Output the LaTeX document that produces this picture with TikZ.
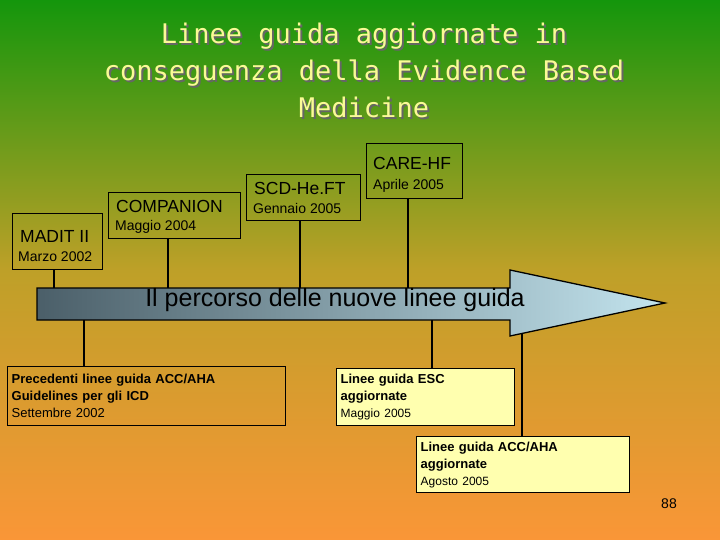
\documentclass[tikz,border=0pt]{standalone}
\usepackage{fontspec}
\setmainfont{Liberation Sans}
\newfontfamily\titlefont{DejaVu Sans Mono}
\definecolor{bgtop}{RGB}{20,150,12}
\definecolor{bgmid}{RGB}{190,160,40}
\definecolor{bgbot}{RGB}{250,150,55}
\definecolor{titlecol}{RGB}{250,250,150}
\definecolor{arrowdark}{RGB}{75,95,105}
\definecolor{arrowlight}{RGB}{195,228,238}
\definecolor{notecol}{RGB}{255,255,175}
\tikzset{
		trial/.style = {draw, line width=1.3pt, anchor=north west, align=left, inner sep=4pt},
		guide/.style = {draw, line width=1.3pt, anchor=north west, align=left, inner sep=4pt, font=\fontsize{13}{17}\selectfont},
		stem/.style  = {line width=1.3pt},
		trialname/.style = {anchor=west, inner sep=0pt, font=\fontsize{17.5}{20}\selectfont},
		trialdate/.style = {anchor=west, inner sep=0pt, font=\fontsize{14}{16}\selectfont}
	}
\begin{document}
\begin{tikzpicture}[x=1pt,y=-1pt]
	\shade[top color=bgtop, bottom color=bgbot, middle color=bgmid] (0,0) rectangle (720,540);
	\useasboundingbox (0,0) rectangle (720,540);
	
	% title
	\node[text=black!60, align=center, font=\titlefont\fontsize{27}{37}\selectfont] at (366,72) {Linee guida aggiornate in\\conseguenza della Evidence Based\\Medicine};
	\node (title) [text=titlecol, align=center, font=\titlefont\fontsize{27}{37}\selectfont] at (364,70) {Linee guida aggiornate in\\conseguenza della Evidence Based\\Medicine};
	
	% timeline arrow
	\draw[line width=1.3pt, left color=arrowdark, right color=arrowlight] (37,288) -- (510,288) -- (510,270) -- (665,303) -- (510,336) -- (510,320) -- (37,320) -- cycle;
	\coordinate (top1) at (54,288);
	\coordinate (top2) at (168,288);
	\coordinate (top3) at (300,288);
	\coordinate (top4) at (408,288);
	\coordinate (bot1) at (84,320);
	\coordinate (bot2) at (432,320);
	\coordinate (bot3) at (522,333);
	\node (path) [font=\fontsize{25}{28}\selectfont] at (335,300) {Il percorso delle nuove linee guida};
	
	% trials above the arrow
	\node[trial, minimum width=90pt, minimum height=56pt] (madit) at (12,213) {};
	\node[trialname] at (20,236) {MADIT II};
	\node[trialdate] at (18,257) {Marzo 2002};
	\node[trial, minimum width=132pt, minimum height=46pt] (comp) at (108,192) {};
	\node[trialname] at (116,206) {COMPANION};
	\node[trialdate] at (115,227) {Maggio 2004};
	\node[trial, minimum width=114pt, minimum height=46pt] (scd) at (246,174) {};
	\node[trialname] at (254,188) {SCD-He.FT};
	\node[trialdate] at (253,208) {Gennaio 2005};
	\node[trial, minimum width=96pt, minimum height=55pt] (care) at (366,143) {};
	\node[trialname] at (373,163) {CARE-HF};
	\node[trialdate] at (373,186) {Aprile 2005};
	
	\draw[stem] (madit.south -| top1) -- (top1);
	\draw[stem] (comp.south -| top2) -- (top2);
	\draw[stem] (scd.south -| top3) -- (top3);
	\draw[stem] (care.south -| top4) -- (top4);
	
	% guidelines below the arrow
	\node[guide, text width=270pt, minimum height=59pt] (prev) at (7,366) {\textbf{Precedenti linee guida ACC/AHA}\\\textbf{Guidelines per gli ICD}\\Settembre 2002};
	\node[guide, fill=notecol, text width=170pt, minimum height=57pt] (esc) at (336,368) {\textbf{Linee guida ESC}\\\textbf{aggiornate}\\{\fontsize{12}{13}\selectfont Maggio 2005}};
	\node[guide, fill=notecol, text width=205pt, minimum height=56pt] (acc) at (416,436) {\textbf{Linee guida ACC/AHA}\\\textbf{aggiornate}\\{\fontsize{12}{13}\selectfont Agosto 2005}};
	
	\draw[stem] (bot1) -- (prev.north -| bot1);
	\draw[stem] (bot2) -- (esc.north -| bot2);
	\draw[stem] (bot3) -- (acc.north -| bot3);
	
	\node (page) [font=\fontsize{14}{16}\selectfont] at (669,504) {88};
\end{tikzpicture}
\end{document}
